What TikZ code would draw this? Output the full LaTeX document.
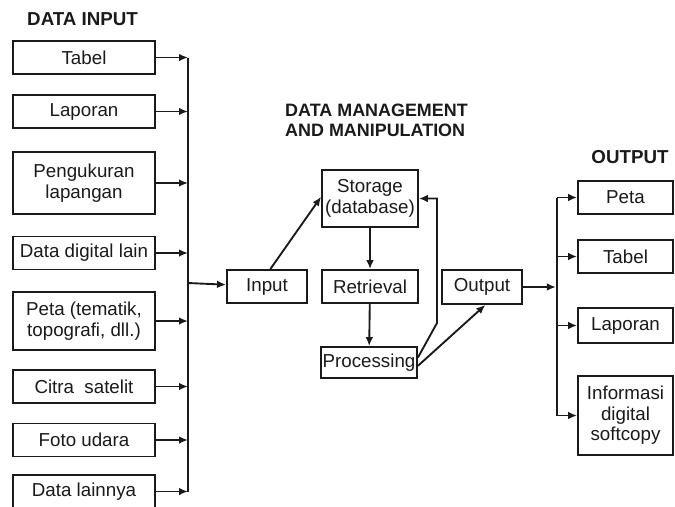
\documentclass[tikz,border=0pt]{standalone}
\usepackage{fontspec}
\setmainfont{Liberation Sans}
\usetikzlibrary{arrows.meta,positioning}
\definecolor{Ink}{HTML}{1A1A1A}
\newcommand{\bodyfont}{\fontsize{16}{17.5}\selectfont}
\newcommand{\headfont}{\fontsize{16}{17}\selectfont\bfseries}
\tikzset{
  box/.style={draw=Ink,line width=1.6pt,fill=white,align=center,font=\bodyfont,text=Ink,inner sep=1pt},
  src/.style={box,minimum width=42.6mm,minimum height=9.9mm},
  mid/.style={box,minimum width=28.8mm,minimum height=9.9mm},
  dst/.style={box,minimum width=28.5mm,minimum height=9.9mm},
  head/.style={font=\headfont,text=Ink,align=left,inner sep=0pt},
  bus/.style={draw=Ink,line width=1.6pt},
  arr/.style={-{Latex[length=2.7mm,width=2.3mm]},draw=Ink,line width=1.6pt}
}

\begin{document}
\begin{tikzpicture}[x=0.3mm,y=-0.3mm]
  \useasboundingbox (0,0) rectangle (675,506);
  % data input
  \node[head,anchor=west] (hin) at (27,19) {DATA INPUT};
  \node[src] (tabel) at (84,57.5) {Tabel};
  \node[src] (lap) at (84,111.5) {Laporan};
  \node[src,minimum height=18.6mm] (ukur) at (84,183) {Pengukuran\\lapangan};
  \node[src] (digit) at (84,253) {Data digital lain};
  \node[src,minimum height=17.4mm] (peta) at (84,321) {Peta (tematik,\\topografi, dll.)};
  \node[src] (citra) at (84,386.5) {Citra\ \ satelit};
  \node[src] (foto) at (84,440) {Foto udara};
  \node[src] (lain) at (84,491.5) {Data lainnya};
  \coordinate (ibus) at (188,283);
  \draw[bus] (tabel.east -| ibus) -- (lain.east -| ibus);
  \foreach \n in {tabel,lap,ukur,digit,peta,citra,foto,lain}
    \draw[arr] (\n.east) -- (\n.east -| ibus);

  % management and manipulation
  \node[head,anchor=west,font=\fontsize{15.3}{17}\selectfont\bfseries] (hman) at (285,120) {DATA MANAGEMENT\\AND MANIPULATION};
  \node[box,minimum width=24mm,minimum height=9.9mm] (input) at (267,286.5) {Input};
  \node[mid,minimum height=17.1mm] (stor) at (370,198.5) {Storage\\(database)};
  \node[mid] (retr) at (370,286.5) {Retrieval};
  \node[mid,minimum height=9.3mm] (proc) at (369,362.5) {Processing};
  \node[box,minimum width=24mm,minimum height=10.2mm] (out) at (482,287) {Output};
  \coordinate (fb) at (437,323);
  \draw[arr] (ibus) -- (input);
  \draw[arr] ([xshift=1mm]input.north) -- ([yshift=0.5mm]stor.west);
  \draw[arr] (stor) -- (retr);
  \draw[arr] (retr) -- (proc);
  \draw[arr] ([yshift=1.5mm]proc.east) -- (fb) |- (stor.east);
  \draw[arr] ([yshift=-1mm]proc.east) -- ([xshift=1mm]out.south);

  % output
  \node[head] (hout) at (630,157.5) {OUTPUT};
  \node[dst] (opeta) at (625.5,197.5) {Peta};
  \node[dst] (otabel) at (625.5,256.5) {Tabel};
  \node[dst,minimum height=10.5mm] (olap) at (625.5,325.5) {Laporan};
  \node[dst,minimum height=23.7mm] (oinfo) at (625.5,415.5) {Informasi\\digital\\softcopy};
  \coordinate (obus) at (557,287);
  \draw[arr,shorten >=1pt] (out) -- (obus);
  \draw[bus] (opeta.west -| obus) -- (oinfo.west -| obus);
  \foreach \n in {opeta,otabel,olap,oinfo}
    \draw[arr] (\n.west -| obus) -- (\n);
\end{tikzpicture}
\end{document}
